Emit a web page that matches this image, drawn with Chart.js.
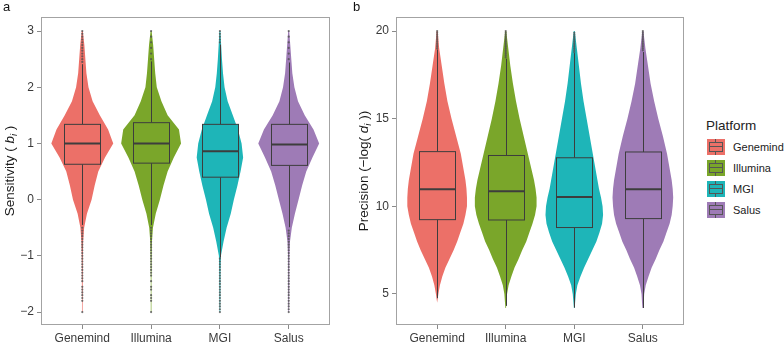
<!DOCTYPE html>
<html>
<head>
<meta charset="utf-8">
<script src="https://cdn.jsdelivr.net/npm/chart.js@4.4.1/dist/chart.umd.min.js"></script>
<style>
  body { margin: 0; background: #fff; font-family: "Liberation Sans", Arial, sans-serif; }
  #wrap { position: relative; width: 784px; height: 343px; overflow: hidden; }
  canvas { position: absolute; top: 0; }
  .tag { position: absolute; top: -1px; font-size: 13px; color: #111; }
  #legend { position: absolute; left: 706px; top: 118px; color: #222; }
  #legend .ltitle { font-size: 13.5px; height: 21px; line-height: 16px; }
  .row { height: 21px; position: relative; }
  .key { position: absolute; left: 1px; top: 0; width: 18px; height: 16px; }
  .key .wh { position: absolute; left: 8px; top: 0; width: 1px; height: 16px; background: #555; }
  .key .bx { position: absolute; left: 2px; top: 3px; width: 12px; height: 8px; border: 1px solid #555; }
  .key .md { position: absolute; left: 2px; top: 7px; width: 14px; height: 1px; background: #555; }
  .row .lab { position: absolute; left: 27px; top: 1px; font-size: 11px; line-height: 14px; }
</style>
</head>
<body>
<div id="wrap">
  <canvas id="chartA" width="345" height="343" style="left:0"></canvas>
  <canvas id="chartB" width="355" height="343" style="left:345px"></canvas>
  <div class="tag" style="left:3px">a</div>
  <div class="tag" style="left:353px">b</div>
  <div id="legend"><div class="ltitle">Platform</div><div id="items"></div></div>
</div>
<script>
const platforms = ['Genemind', 'Illumina', 'MGI', 'Salus'];
const colors = ['#EC7068', '#7AA62A', '#1EB5B8', '#9E7BB6'];

// panel a: sensitivity (b_i)
const sensGrid = [-2.0, -1.75, -1.5, -1.25, -1.0, -0.75, -0.5, -0.25, 0, 0.25, 0.5, 0.75, 1.0, 1.25, 1.5, 1.75, 2.0, 2.25, 2.5, 2.75, 3.0];
const sensDensity = [
  [0.3, 0.3, 0.4, 0.4, 0.5, 0.8, 1.8, 4.5, 9, 12, 15.5, 22, 30, 25, 17, 10, 6, 4, 3, 2, 0.5],
  [0.3, 0.3, 0.3, 0.4, 0.5, 0.8, 1.8, 4.5, 8.5, 12, 16, 22, 29, 27, 16, 10, 5.5, 4, 3, 2, 0.5],
  [0.3, 0.4, 0.5, 0.6, 1, 3.5, 6.5, 10.5, 13.5, 17, 20, 22.5, 21, 17.5, 12.5, 7.5, 4.5, 3, 2, 1.2, 0.5],
  [0.3, 0.4, 0.5, 0.5, 0.6, 1.2, 3, 6, 9.5, 13, 17, 23, 29.5, 24, 15.5, 9, 5.5, 3.5, 2.5, 1.5, 0.5]
];
const sensQ1 = [0.63, 0.65, 0.40, 0.61];
const sensMed = [1.0, 1.0, 0.86, 0.98];
const sensQ3 = [1.34, 1.37, 1.34, 1.34];
const sensLo = [-0.45, -0.45, -1.03, -0.49];
const sensHi = [2.41, 2.46, 2.76, 2.44];
const sensOutliers = [
  [-0.5, -0.55, -0.6, -0.65, -0.7, -0.75, -0.8, -0.85, -0.9, -0.95, -1.0, -1.05, -1.1, -1.15, -1.2, -1.25, -1.3, -1.35, -1.4, -1.45,
   -1.55, -1.6, -1.65, -1.7, -1.75, -1.8, -2.0, 2.45, 2.5, 2.55, 2.6, 2.65, 2.7, 2.75, 2.8, 2.85, 2.9, 2.95, 3.0],
  [-0.5, -0.55, -0.6, -0.65, -0.7, -0.75, -0.8, -0.85, -0.9, -0.95, -1.0, -1.05, -1.1, -1.15, -1.2, -1.25, -1.3, -1.35,
   -1.45, -1.55, -1.6, -1.7, -1.75, -1.8, -2.0, 2.5, 2.6, 2.7, 2.8, 2.9, 3.0],
  [-1.05, -1.1, -1.15, -1.2, -1.25, -1.3, -1.35, -1.4, -1.45, -1.5, -1.55, -1.6, -1.65, -1.7, -1.75, -1.8, -1.85, -1.9, -1.95, -2.0,
   2.8, 2.85, 2.9, 2.95, 3.0],
  [-0.55, -0.6, -0.65, -0.7, -0.75, -0.8, -0.85, -0.9, -0.95, -1.0, -1.05, -1.1, -1.15, -1.2, -1.25, -1.3, -1.35, -1.4, -1.45, -1.5,
   -1.55, -1.6, -1.65, -1.7, -1.75, -1.8, -1.85, -1.9, -1.95, -2.0, 2.5, 2.6, 2.7, 2.8, 2.9, 3.0]
];
const sensTicks = [-2, -1, 0, 1, 2, 3];

// panel b: precision (-log(d_i))
const precGrid = [4.2, 4.5, 5, 5.5, 6, 6.5, 7, 7.5, 8, 8.5, 9, 9.5, 10, 10.5, 11, 11.5, 12, 13, 14, 15, 16, 17, 18, 19, 20];
const precDensity = [
  [0, 0, 1.2, 2.7, 5, 8, 12, 16, 19.5, 22.5, 25.5, 27.5, 29, 29, 28.5, 27.5, 26, 23, 18.5, 14, 10, 7, 4.5, 2, 0.5],
  [0.3, 0.7, 1.3, 2.8, 5.5, 8.5, 12.5, 16, 20, 23, 26, 28.5, 30, 30, 29, 27.5, 25.5, 21.5, 17.5, 13.5, 10, 7, 4.5, 2.5, 0.5],
  [0.4, 0.8, 1.5, 3, 6, 9.5, 13.5, 17.5, 21.5, 24.5, 27, 28, 27.5, 26, 24, 22.5, 21, 18, 15, 12, 9, 6.5, 4.5, 2.5, 0.5],
  [0.4, 0.8, 1.3, 2.8, 5.5, 8.5, 12.5, 16, 20, 23, 26, 28, 29, 29.5, 29, 28, 26.5, 23.5, 19.5, 15, 11, 7.5, 5, 2.5, 0.5]
];
const precQ1 = [9.24, 9.22, 8.79, 9.30];
const precMed = [10.97, 10.86, 10.53, 10.97];
const precQ3 = [13.12, 12.90, 12.77, 13.10];
const precLo = [4.76, 4.32, 4.22, 4.20];
const precHi = [18.94, 18.42, 18.74, 18.80];
const precOutliers = [
  [19.0, 19.1, 19.2, 19.3, 19.4, 19.5, 19.6, 19.7, 19.8, 19.9, 20.0],
  [18.5, 18.6, 18.7, 18.8, 18.9, 19.0, 19.1, 19.2, 19.3, 19.4, 19.5, 19.6, 19.7, 19.8, 19.9, 20.0],
  [18.8, 18.9, 19.0, 19.1, 19.2, 19.3, 19.4, 19.5, 19.6, 19.7, 19.8, 19.9],
  [18.9, 19.0, 19.1, 19.2, 19.3, 19.4, 19.5, 19.6, 19.7, 19.8, 19.9, 20.0]
];
const precTicks = [5, 10, 15, 20];

const inkColor = '#3d3d3d';
const tickColor = '#3a3a3a';

// violins + boxplots + panel frame + y title (italic symbol with subscript)
const violinPlugin = {
  id: 'violins',
  beforeDatasetsDraw(chart, args, o) {
    const { ctx, chartArea: a, scales: { x, y } } = chart;
    const maxD = Math.max(...o.dens.flat());
    ctx.save();
    ctx.beginPath();
    ctx.rect(a.left, a.top, a.width, a.height);
    ctx.clip();
    o.dens.forEach((d, i) => {
      const c = i + 1;
      ctx.beginPath();
      o.grid.forEach((g, k) => {
        const px = x.getPixelForValue(c + 0.45 * d[k] / maxD), py = y.getPixelForValue(g);
        k ? ctx.lineTo(px, py) : ctx.moveTo(px, py);
      });
      for (let k = o.grid.length - 1; k >= 0; k--) {
        ctx.lineTo(x.getPixelForValue(c - 0.45 * d[k] / maxD), y.getPixelForValue(o.grid[k]));
      }
      ctx.closePath();
      ctx.fillStyle = colors[i];
      ctx.fill();
    });
    ctx.strokeStyle = inkColor;
    o.q1.forEach((q1, i) => {
      const c = i + 1;
      const xc = Math.round(x.getPixelForValue(c)) + 0.5;
      const xl = Math.round(x.getPixelForValue(c - 0.26)) + 0.5;
      const xr = Math.round(x.getPixelForValue(c + 0.26)) + 0.5;
      const yq1 = y.getPixelForValue(q1), yq3 = y.getPixelForValue(o.q3[i]);
      ctx.lineWidth = 1;
      ctx.beginPath();
      ctx.moveTo(xc, y.getPixelForValue(o.lo[i])); ctx.lineTo(xc, yq1);
      ctx.moveTo(xc, yq3); ctx.lineTo(xc, y.getPixelForValue(o.hi[i]));
      ctx.stroke();
      ctx.fillStyle = colors[i];
      ctx.fillRect(xl, yq3, xr - xl, yq1 - yq3);
      ctx.strokeRect(xl, yq3, xr - xl, yq1 - yq3);
      ctx.lineWidth = 2;
      ctx.beginPath();
      const ym = y.getPixelForValue(o.med[i]);
      ctx.moveTo(xl, ym); ctx.lineTo(xr, ym);
      ctx.stroke();
    });
    ctx.restore();
  },
  afterDraw(chart, args, o) {
    const { ctx, chartArea: a } = chart;
    ctx.save();
    ctx.strokeStyle = '#a3a3a3';
    ctx.lineWidth = 1;
    ctx.strokeRect(Math.round(a.left) + 0.5, Math.round(a.top) + 0.5, Math.round(a.width) - 1, Math.round(a.height) - 1);
    // y axis title
    ctx.translate(o.titleX, (a.top + a.bottom) / 2);
    ctx.rotate(-Math.PI / 2);
    ctx.fillStyle = '#1a1a1a';
    ctx.textBaseline = 'middle';
    const pieces = o.title.map(p => {
      const f = (p.it ? 'italic ' : '') + (p.sub ? '9.5px' : '13.5px') + ' "Liberation Sans", Arial, sans-serif';
      ctx.font = f;
      return { ...p, f, w: ctx.measureText(p.t).width };
    });
    let cx = -pieces.reduce((s, p) => s + p.w, 0) / 2;
    pieces.forEach(p => {
      ctx.font = p.f;
      ctx.fillText(p.t, cx, p.sub ? 4 : 0);
      cx += p.w;
    });
    ctx.restore();
  }
};

function makeChart(id, cfg) {
  const datasets = cfg.outliers.map((vals, i) => ({
    label: platforms[i],
    data: vals.map(v => ({ x: i + 1, y: v })),
    pointRadius: 1.1,
    pointBorderWidth: 0,
    pointBackgroundColor: 'rgba(80,80,80,0.8)',
    showLine: false
  }));
  return new Chart(document.getElementById(id), {
    type: 'scatter',
    data: { datasets },
    plugins: [violinPlugin],
    options: {
      responsive: false,
      animation: false,
      events: [],
      layout: { padding: { left: 0, right: cfg.padRight, top: 17, bottom: 0 } },
      plugins: {
        legend: { display: false },
        tooltip: { enabled: false },
        violins: cfg.violin
      },
      scales: {
        x: {
          type: 'linear', min: 0.4, max: 4.6,
          afterBuildTicks: s => { s.ticks = platforms.map((p, i) => ({ value: i + 1 })); },
          afterFit: s => { s.height = 18; },
          ticks: {
            callback: v => platforms[v - 1], autoSkip: false, maxRotation: 0,
            padding: 2, color: tickColor, font: { size: 12, family: '"Liberation Sans", Arial, sans-serif' }
          },
          grid: { drawOnChartArea: false, drawTicks: true, tickLength: 4, color: '#8a8a8a' },
          border: { display: false }
        },
        y: {
          min: cfg.yMin, max: cfg.yMax,
          afterBuildTicks: s => { s.ticks = cfg.ticks.map(v => ({ value: v })); },
          afterFit: s => { s.width = cfg.yWidth; },
          ticks: {
            callback: v => (v < 0 ? '\u2212' + Math.abs(v) : String(v)),
            padding: 3, color: tickColor, font: { size: 12, family: '"Liberation Sans", Arial, sans-serif' }
          },
          grid: { drawOnChartArea: false, drawTicks: true, tickLength: 4, color: '#8a8a8a' },
          border: { display: false }
        }
      }
    }
  });
}

makeChart('chartA', {
  outliers: sensOutliers, ticks: sensTicks, yMin: -2.23, yMax: 3.25, yWidth: 41, padRight: 15,
  violin: {
    grid: sensGrid, dens: sensDensity, q1: sensQ1, med: sensMed, q3: sensQ3, lo: sensLo, hi: sensHi,
    titleX: 10,
    title: [{ t: 'Sensitivity ( ' }, { t: 'b', it: true }, { t: 'i', it: true, sub: true }, { t: ' )' }]
  }
});

makeChart('chartB', {
  outliers: precOutliers, ticks: precTicks, yMin: 3.23, yMax: 20.8, yWidth: 51, padRight: 16,
  violin: {
    grid: precGrid, dens: precDensity, q1: precQ1, med: precMed, q3: precQ3, lo: precLo, hi: precHi,
    titleX: 19,
    title: [{ t: 'Precision (\u2212log( ' }, { t: 'd', it: true }, { t: 'i', it: true, sub: true }, { t: ' ))' }]
  }
});

// legend
const items = document.getElementById('items');
platforms.forEach((p, i) => {
  const row = document.createElement('div');
  row.className = 'row';
  row.innerHTML = '<div class="key" style="background:' + colors[i] + '"><div class="wh"></div>' +
    '<div class="bx" style="background:' + colors[i] + '"></div><div class="md"></div></div>' +
    '<div class="lab">' + p + '</div>';
  items.appendChild(row);
});
</script>
</body>
</html>
